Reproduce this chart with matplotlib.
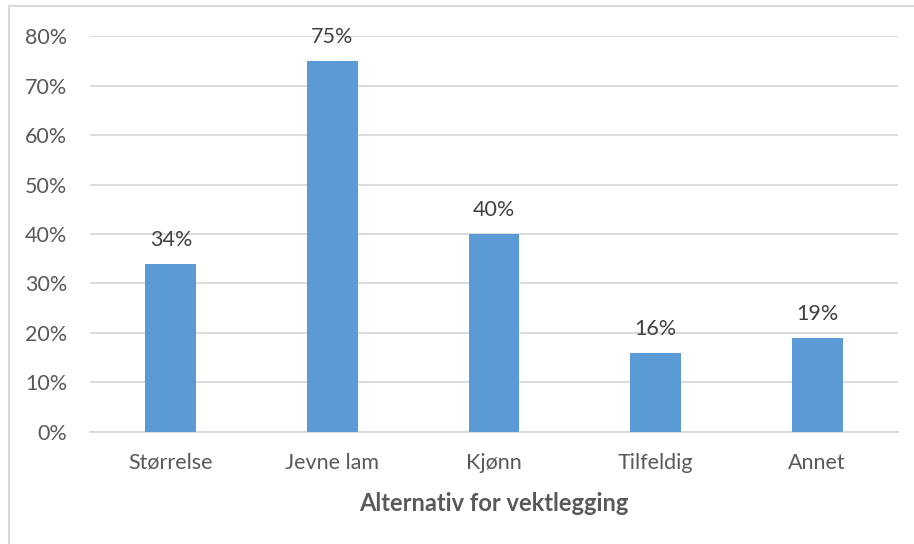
import matplotlib.pyplot as plt
from matplotlib.ticker import PercentFormatter
from matplotlib.lines import Line2D

categories = ['Størrelse', 'Jevne lam', 'Kjønn', 'Tilfeldig', 'Annet']
values = [34, 75, 40, 16, 19]
yticks = [0, 10, 20, 30, 40, 50, 60, 70, 80]

text_col = '#595959'
grid_col = '#D9D9D9'
bar_col = '#5B9BD5'

plt.rcParams['font.family'] = ['Lato', 'DejaVu Sans']

fig = plt.figure(figsize=(9.14, 5.44), dpi=100)
ax = fig.add_axes([0.0985, 0.2059, 0.884, 0.7279])

x = range(len(categories))
bars = ax.bar(x, values, width=0.315, color=bar_col, zorder=3)

for b, v in zip(bars, values):
    ax.annotate(f'{v}%', (b.get_x() + b.get_width() / 2, v),
                xytext=(0, 10), textcoords='offset points',
                ha='center', va='bottom', fontsize=15.5, color='#404040', zorder=4)

ax.set_xlim(-0.5, len(categories) - 0.5)
ax.set_ylim(0, 80)
ax.set_yticks(yticks)
ax.yaxis.set_major_formatter(PercentFormatter(decimals=0))
ax.set_xticks(list(x))
ax.set_xticklabels(categories)
ax.tick_params(axis='y', length=0, pad=16.5, labelsize=15.5, labelcolor=text_col)
ax.tick_params(axis='x', length=0, pad=15, labelsize=15.5, labelcolor=text_col)
ax.grid(axis='y', color=grid_col, linewidth=1.3, zorder=0)
for s in ['top', 'right', 'left']:
    ax.spines[s].set_visible(False)
ax.spines['bottom'].set_color(grid_col)
ax.spines['bottom'].set_linewidth(1.3)

ax.set_xlabel('Alternativ for vektlegging', fontsize=17, fontweight='bold',
              color=text_col, labelpad=14)

# thin frame around the chart area (top and left edges)
fig.add_artist(Line2D([0.0098, 1.0], [0.9881, 0.9881], color=grid_col, linewidth=1.5))
fig.add_artist(Line2D([0.0098, 0.0098], [0.0, 0.9881], color=grid_col, linewidth=1.5))

fig.savefig('out.png', dpi=100)
